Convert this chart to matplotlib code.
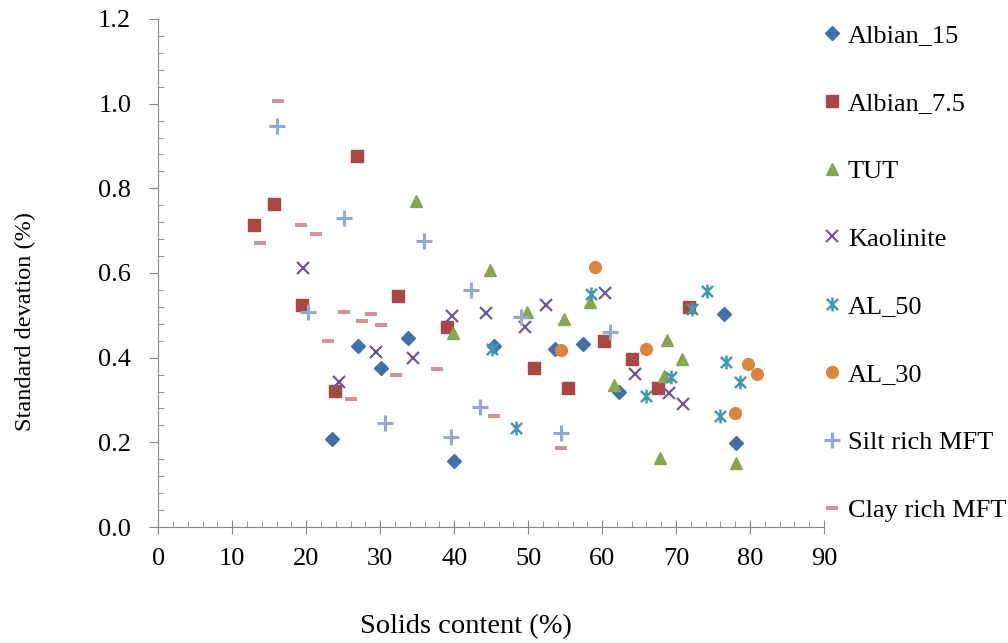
import numpy as np
import matplotlib.pyplot as plt
from matplotlib.path import Path
from matplotlib.ticker import MultipleLocator, FormatStrFormatter

plt.rcParams['font.family'] = ['Liberation Serif', 'DejaVu Serif']

# Values (solids content %, standard deviation %)
albian15_x = [23.5, 27.0, 30.1, 33.7, 40.0, 45.4, 53.6, 57.4, 62.3, 76.5, 78.1]
albian15_y = [0.208, 0.428, 0.376, 0.446, 0.156, 0.428, 0.420, 0.432, 0.319, 0.503, 0.198]

albian75_x = [13.0, 15.6, 19.4, 23.9, 26.8, 32.4, 39.0, 50.8, 55.4, 60.2, 64.0, 67.5, 71.8]
albian75_y = [0.713, 0.763, 0.524, 0.321, 0.876, 0.546, 0.472, 0.376, 0.328, 0.439, 0.397, 0.328, 0.520]

tut_x = [34.8, 39.8, 44.8, 49.8, 54.8, 58.3, 61.6, 67.8, 68.4, 68.8, 70.8, 78.1]
tut_y = [0.770, 0.458, 0.607, 0.508, 0.491, 0.531, 0.335, 0.163, 0.357, 0.442, 0.397, 0.151]

kaol_x = [19.6, 24.4, 29.4, 34.4, 39.7, 44.3, 49.6, 52.4, 60.4, 64.4, 69.0, 70.9]
kaol_y = [0.612, 0.342, 0.413, 0.399, 0.498, 0.506, 0.472, 0.524, 0.553, 0.361, 0.316, 0.291]

al50_x = [45.1, 48.3, 58.5, 65.9, 69.3, 72.1, 74.2, 75.9, 76.8, 78.6]
al50_y = [0.420, 0.234, 0.550, 0.309, 0.354, 0.515, 0.557, 0.262, 0.390, 0.342]

al30_x = [54.4, 59.0, 66.0, 77.9, 79.7, 80.9]
al30_y = [0.418, 0.614, 0.420, 0.269, 0.385, 0.361]

silt_x = [16.0, 20.2, 25.1, 30.6, 35.9, 39.6, 42.3, 43.5, 49.0, 54.4, 61.0]
silt_y = [0.947, 0.508, 0.730, 0.246, 0.676, 0.213, 0.560, 0.283, 0.496, 0.222, 0.461]

clay_x = [13.7, 16.2, 19.3, 21.3, 23.0, 25.1, 26.0, 27.5, 28.7, 30.1, 32.1, 37.7, 45.4, 54.4]
clay_y = [0.671, 1.006, 0.713, 0.692, 0.439, 0.508, 0.302, 0.487, 0.503, 0.477, 0.359, 0.373, 0.262, 0.187]

# excel style asterisk: X plus a vertical bar
star = Path([(0, -1), (0, 1), (-0.8, -0.8), (0.8, 0.8), (-0.8, 0.8), (0.8, -0.8)],
            [Path.MOVETO, Path.LINETO] * 3)
dash = [(-1, -0.3), (1, -0.3), (1, 0.3), (-1, 0.3)]

fig = plt.figure(figsize=(10.08, 6.43), dpi=100)
ax = fig.add_axes([0.157, 0.1804, 0.6605, 0.7901])

ax.plot(albian15_x, albian15_y, 'D', ms=7.5, color='#4170AB', label='Albian_15')
ax.plot(albian75_x, albian75_y, 's', ms=8.5, color='#AA4643', label='Albian_7.5')
ax.plot(tut_x, tut_y, '^', ms=9, color='#89A54E', label='TUT')
ax.plot(kaol_x, kaol_y, 'x', ms=8, mew=1.6, color='#71588F', label='Kaolinite')
ax.plot(al50_x, al50_y, ls='none', marker=star, ms=10, mew=1.8, color='#4198AF', label='AL_50')
ax.plot(al30_x, al30_y, 'o', ms=8.5, color='#DB843D', label='AL_30')
ax.plot(silt_x, silt_y, '+', ms=12, mew=2.2, color='#93A9CF', label='Silt rich MFT')
ax.plot(clay_x, clay_y, ls='none', marker=dash, ms=9, mew=0, color='#D19392', label='Clay rich MFT')

ax.set_xlim(0, 90)
ax.set_ylim(0, 1.2)
ax.xaxis.set_major_locator(MultipleLocator(10))
ax.xaxis.set_minor_locator(MultipleLocator(2))
ax.yaxis.set_major_locator(MultipleLocator(0.2))
ax.yaxis.set_minor_locator(MultipleLocator(0.04))
ax.yaxis.set_major_formatter(FormatStrFormatter('%.1f'))

for s in ['top', 'right']:
    ax.spines[s].set_visible(False)
for s in ['left', 'bottom']:
    ax.spines[s].set_color('#868686')

ax.tick_params(axis='both', which='both', color='#868686', labelsize=19)
ax.tick_params(axis='x', which='major', direction='inout', length=10, pad=10)
ax.tick_params(axis='x', which='minor', direction='in', length=4.5)
ax.tick_params(axis='y', which='major', direction='out', length=6.5, pad=13)
ax.tick_params(axis='y', which='minor', direction='in', length=4.5)

fig.text(0.462, 0.025, 'Solids content (%)', ha='center', va='center', fontsize=20.5)
fig.text(0.025, 0.5, 'Standard devation (%)', ha='center', va='center', rotation=90, fontsize=17.5)

ax.legend(loc='upper left', bbox_to_anchor=(0.8175, 0.963), bbox_transform=fig.transFigure,
          frameon=False, fontsize=19, labelspacing=1.68, handlelength=0.6,
          handletextpad=0.3, numpoints=1, borderaxespad=0, borderpad=0)

fig.savefig('out.png', dpi=100)
